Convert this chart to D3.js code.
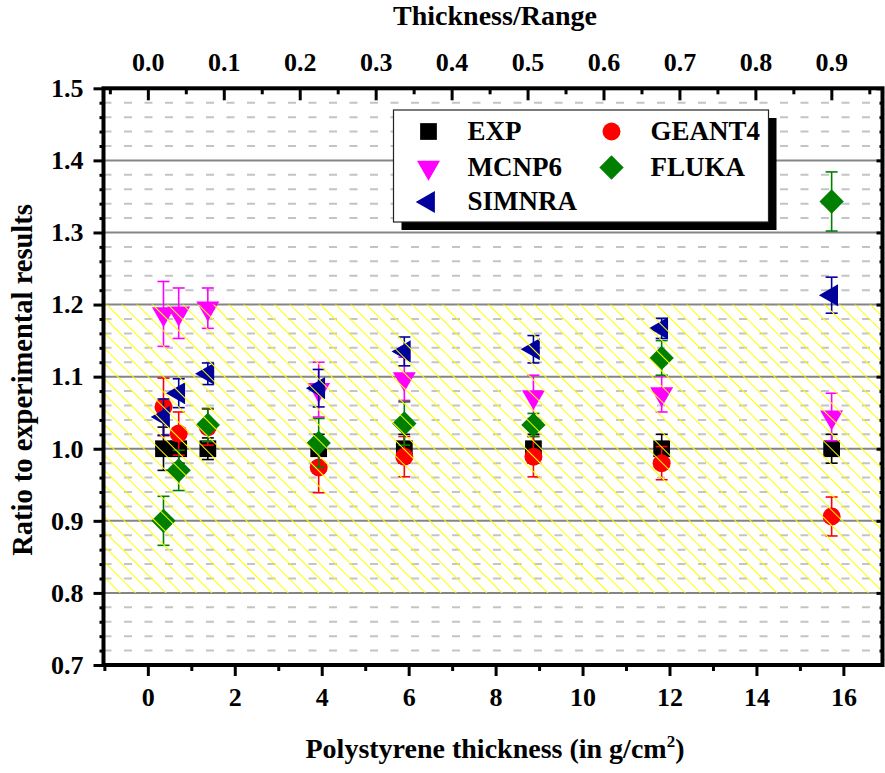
<!DOCTYPE html>
<html>
<head>
<meta charset="utf-8">
<script src="https://cdn.jsdelivr.net/npm/d3@7"></script>
<style>
  html, body { margin: 0; padding: 0; background: #fff; }
  svg { display: block; }
</style>
</head>
<body>
<svg id="chart" width="885" height="773"></svg>
<script>
// ---- data -------------------------------------------------------------
// Polystyrene thickness of each measurement (g/cm^2)
const thickness = [0.36, 0.71, 1.38, 3.93, 5.90, 8.87, 11.82, 15.73];
// Range used to express thickness as a fraction (g/cm^2)
const rangeLength = 17.47;

const seriesNames = ["EXP", "GEANT4", "MCNP6", "FLUKA", "SIMNRA"];

const expRatio    = [1.000, 1.000, 1.000, 1.000, 1.000, 1.000, 1.000, 1.000];
const expError    = [0.030, 0.020, 0.015, 0.020, 0.020, 0.020, 0.020, 0.020];
const geant4Ratio = [1.058, 1.021, 1.030, 0.974, 0.989, 0.989, 0.980, 0.906];
const geant4Error = [0.040, 0.030, 0.025, 0.035, 0.028, 0.028, 0.023, 0.027];
const mcnp6Ratio  = [1.187, 1.188, 1.195, 1.082, 1.097, 1.072, 1.076, 1.044];
const mcnp6Error  = [0.045, 0.035, 0.028, 0.038, 0.030, 0.030, 0.025, 0.033];
const flukaRatio  = [0.900, 0.970, 1.033, 1.008, 1.035, 1.033, 1.126, 1.343];
const flukaError  = [0.034, 0.028, 0.023, 0.034, 0.030, 0.016, 0.024, 0.041];
const simnraRatio = [1.044, 1.077, 1.104, 1.084, 1.135, 1.138, 1.167, 1.213];
const simnraError = [0.025, 0.020, 0.015, 0.026, 0.020, 0.019, 0.014, 0.025];

// tick values
const xTicks      = [0, 2, 4, 6, 8, 10, 12, 14, 16];
const xMinorTicks = [-1, 1, 3, 5, 7, 9, 11, 13, 15];
const topTicks    = [0.0, 0.1, 0.2, 0.3, 0.4, 0.5, 0.6, 0.7, 0.8, 0.9];
const topMinorTicks = [-0.05, 0.05, 0.15, 0.25, 0.35, 0.45, 0.55, 0.65, 0.75, 0.85, 0.95];
const yTicks      = [0.7, 0.8, 0.9, 1.0, 1.1, 1.2, 1.3, 1.4, 1.5];
const yMinorTicks = [0.72, 0.74, 0.76, 0.78, 0.82, 0.84, 0.86, 0.88, 0.92, 0.94, 0.96, 0.98,
                     1.02, 1.04, 1.06, 1.08, 1.12, 1.14, 1.16, 1.18, 1.22, 1.24, 1.26, 1.28,
                     1.32, 1.34, 1.36, 1.38, 1.42, 1.44, 1.46, 1.48];
const yGridMajor  = [0.8, 0.9, 1.0, 1.1, 1.2, 1.3, 1.4];
const bandLimits  = [0.8, 1.2];   // ±20 % acceptance band

// ---- styles -----------------------------------------------------------
const FONT = "Liberation Serif";
const seriesColors = ["#000000", "#ff0000", "#ff00ff", "#008000", "#00009c"];
const seriesShapes = [
  { type: d3.symbolSquare,   size: 280, rotate: 0 },
  { type: d3.symbolCircle,   size: 254, rotate: 0 },
  { type: d3.symbolTriangle, size: 229, rotate: 180 },
  { type: d3.symbolSquare,   size: 296, rotate: 45 },
  { type: d3.symbolTriangle, size: 212, rotate: -90 }
];

const series = [
  { values: expRatio,    errors: expError },
  { values: geant4Ratio, errors: geant4Error },
  { values: mcnp6Ratio,  errors: mcnp6Error },
  { values: flukaRatio,  errors: flukaError },
  { values: simnraRatio, errors: simnraError }
].map((s, i) => ({
  name: seriesNames[i],
  color: seriesColors[i],
  shape: seriesShapes[i],
  points: thickness.map((t, j) => ({ x: t, v: s.values[j], e: s.errors[j] }))
}));

// ---- layout -----------------------------------------------------------
const svg = d3.select("#chart");
const plotLeft = 103.5, plotRight = 882.5, plotTop = 88.3, plotBottom = 665;

const x = d3.scaleLinear().domain([-1.02, 16.9]).range([plotLeft, plotRight]);
const xTop = d3.scaleLinear().domain(x.domain().map(v => v / rangeLength)).range(x.range());
const y = d3.scaleLinear().domain([0.7, 1.5]).range([plotBottom, plotTop]);

// hatch pattern for the acceptance band
const defs = svg.append("defs");
const pat = defs.append("pattern")
  .attr("id", "hatch")
  .attr("patternUnits", "userSpaceOnUse")
  .attr("width", 10.8).attr("height", 10.8)
  .attr("patternTransform", "rotate(-45)");
pat.append("line")
  .attr("x1", 0).attr("y1", -1).attr("x2", 0).attr("y2", 12)
  .attr("stroke", "#ffff00").attr("stroke-width", 2);

// grid lines
const grid = svg.append("g");
grid.selectAll("line.minor").data(yMinorTicks).join("line")
  .attr("class", "minor")
  .attr("x1", plotLeft).attr("x2", plotRight)
  .attr("y1", d => y(d)).attr("y2", d => y(d))
  .attr("stroke", "#c4c4c4").attr("stroke-width", 2)
  .attr("stroke-dasharray", "8,12.5");
grid.selectAll("line.major").data(yGridMajor).join("line")
  .attr("class", "major")
  .attr("x1", plotLeft).attr("x2", plotRight)
  .attr("y1", d => y(d)).attr("y2", d => y(d))
  .attr("stroke", "#858585").attr("stroke-width", 2);

// data: error bars then markers, one series after another
const capHalf = 6;
const dataG = svg.append("g");
series.forEach(s => {
  const g = dataG.append("g");
  const eb = g.selectAll("g.err").data(s.points).join("g").attr("class", "err")
    .attr("stroke", s.color).attr("stroke-width", 1.6);
  eb.append("line")
    .attr("x1", d => x(d.x)).attr("x2", d => x(d.x))
    .attr("y1", d => y(d.v + d.e)).attr("y2", d => y(d.v - d.e));
  eb.append("line")
    .attr("x1", d => x(d.x) - capHalf).attr("x2", d => x(d.x) + capHalf)
    .attr("y1", d => y(d.v + d.e)).attr("y2", d => y(d.v + d.e));
  eb.append("line")
    .attr("x1", d => x(d.x) - capHalf).attr("x2", d => x(d.x) + capHalf)
    .attr("y1", d => y(d.v - d.e)).attr("y2", d => y(d.v - d.e));
  const sym = d3.symbol().type(s.shape.type).size(s.shape.size);
  g.selectAll("path.mark").data(s.points).join("path").attr("class", "mark")
    .attr("d", sym)
    .attr("transform", d => `translate(${x(d.x)},${y(d.v)}) rotate(${s.shape.rotate})`)
    .attr("fill", s.color);
});

// hatched band drawn over the data
svg.append("rect")
  .attr("x", plotLeft).attr("width", plotRight - plotLeft)
  .attr("y", y(bandLimits[1])).attr("height", y(bandLimits[0]) - y(bandLimits[1]))
  .attr("fill", "url(#hatch)");

// legend
const legend = svg.append("g").attr("transform", "translate(393.5,110)");
const lgW = 375, lgH = 112;
legend.append("rect").attr("x", 8).attr("y", 8).attr("width", lgW).attr("height", lgH).attr("fill", "#000");
legend.append("rect").attr("x", 0).attr("y", 0).attr("width", lgW).attr("height", lgH)
  .attr("fill", "#fff").attr("stroke", "#222").attr("stroke-width", 1.2);
const legendCols = [35, 218];
const legendRows = [21.5, 57.5, 92];
series.forEach((s, i) => {
  const col = legendCols[i % 2], row = legendRows[Math.floor(i / 2)];
  const sym = d3.symbol().type(s.shape.type).size(s.shape.size);
  legend.append("path").attr("d", sym)
    .attr("transform", `translate(${col},${row}) rotate(${s.shape.rotate})`)
    .attr("fill", s.color);
  legend.append("text")
    .attr("x", col + 39).attr("y", row + 8)
    .attr("font-family", FONT).attr("font-weight", "bold")
    .attr("font-size", 27)
    .text(s.name);
});

// axes
function styleAxis(g) {
  g.select(".domain").remove();
  g.attr("font-family", FONT).attr("font-size", 26).attr("font-weight", "bold");
  g.selectAll(".tick line").attr("stroke", "#000").attr("stroke-width", 3);
  g.selectAll("text").attr("fill", "#000");
}

svg.append("g").attr("transform", `translate(0,${plotBottom})`)
  .call(d3.axisBottom(x).tickValues(xTicks).tickSize(11).tickPadding(12).tickFormat(d3.format("d")))
  .call(styleAxis);
svg.append("g").attr("transform", `translate(0,${plotBottom})`)
  .call(d3.axisBottom(x).tickValues(xMinorTicks).tickSize(6).tickFormat(""))
  .call(styleAxis);

svg.append("g").attr("transform", `translate(0,${plotTop})`)
  .call(d3.axisTop(xTop).tickValues(topTicks).tickSizeInner(-12).tickSizeOuter(0).tickPadding(17).tickFormat(d3.format(".1f")))
  .call(styleAxis);
svg.append("g").attr("transform", `translate(0,${plotTop})`)
  .call(d3.axisTop(xTop).tickValues(topMinorTicks).tickSizeInner(-6).tickSizeOuter(0).tickFormat(""))
  .call(styleAxis);

svg.append("g").attr("transform", `translate(${plotLeft},0)`)
  .call(d3.axisLeft(y).tickValues(yTicks).tickSize(10).tickPadding(10).tickFormat(d3.format(".1f")))
  .call(styleAxis);
svg.append("g").attr("transform", `translate(${plotLeft},0)`)
  .call(d3.axisLeft(y).tickValues(yMinorTicks).tickSize(4).tickFormat(""))
  .call(styleAxis);

svg.append("g").attr("transform", `translate(${plotRight},0)`)
  .call(d3.axisRight(y).tickValues(yTicks).tickSizeInner(-6).tickSizeOuter(0).tickFormat(""))
  .call(styleAxis);
svg.append("g").attr("transform", `translate(${plotRight},0)`)
  .call(d3.axisRight(y).tickValues(yMinorTicks).tickSizeInner(-3).tickSizeOuter(0).tickFormat(""))
  .call(styleAxis);

// frame
svg.append("rect")
  .attr("x", plotLeft).attr("y", plotTop)
  .attr("width", plotRight - plotLeft).attr("height", plotBottom - plotTop)
  .attr("fill", "none").attr("stroke", "#000").attr("stroke-width", 4);

// axis titles
svg.append("text")
  .attr("x", 495).attr("y", 25)
  .attr("text-anchor", "middle")
  .attr("font-family", FONT).attr("font-weight", "bold").attr("font-size", 28)
  .text("Thickness/Range");

const xt = svg.append("text")
  .attr("x", 495).attr("y", 758)
  .attr("text-anchor", "middle")
  .attr("font-family", FONT).attr("font-weight", "bold").attr("font-size", 28);
xt.append("tspan").text("Polystyrene thickness (in g/cm");
xt.append("tspan").attr("font-size", 17).attr("dy", -11).text("2");
xt.append("tspan").attr("dy", 11).text(")");

svg.append("text")
  .attr("transform", "translate(31.5,380) rotate(-90)")
  .attr("text-anchor", "middle")
  .attr("font-family", FONT).attr("font-weight", "bold").attr("font-size", 28.5)
  .text("Ratio to experimental results");
</script>
</body>
</html>
